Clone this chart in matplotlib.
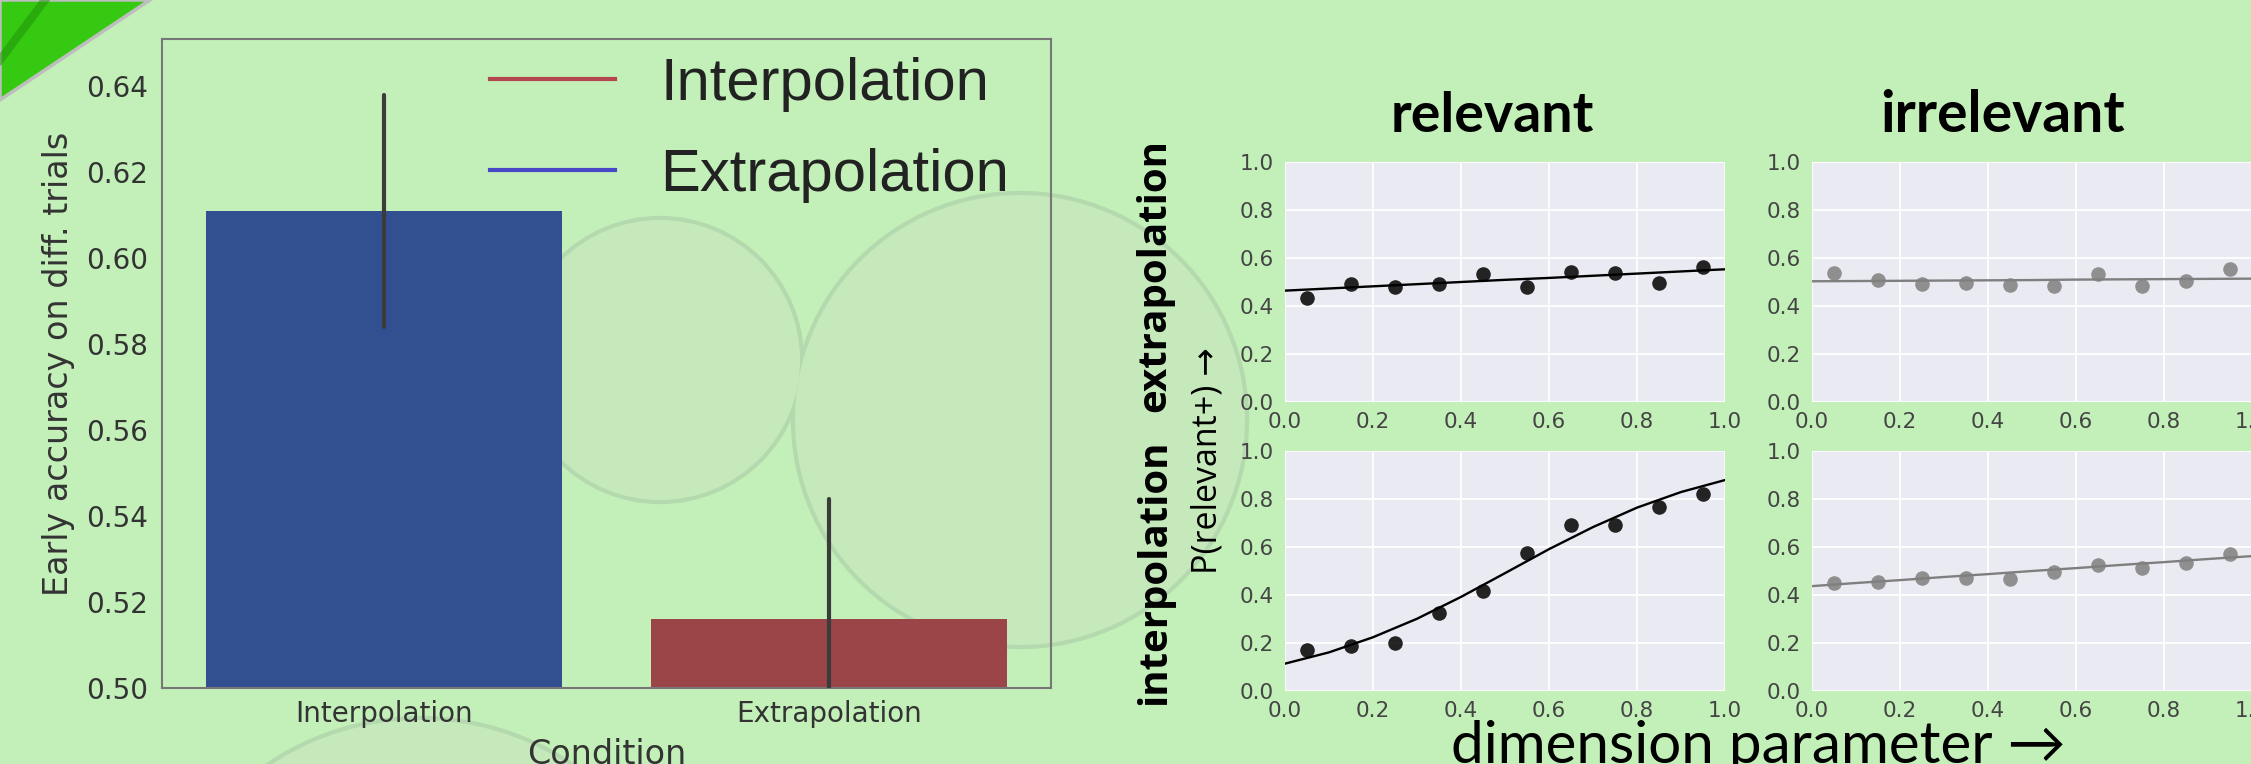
import matplotlib
matplotlib.use('Agg')
import matplotlib.pyplot as plt
from matplotlib.lines import Line2D
from matplotlib.patches import Circle, Polygon
from matplotlib.ticker import FormatStrFormatter
import numpy as np

W, H = 2251, 764  # canvas size in pixels

# --- left: early accuracy bar chart ---
conditions = ['Interpolation', 'Extrapolation']
accuracy = [0.611, 0.516]
ci_low = [0.584, 0.488]
ci_high = [0.638, 0.544]
bar_colors = ['#32508F', '#9B4548']
legend_labels = ['Interpolation', 'Extrapolation']
legend_colors = ['#B5474F', '#4848C8']

# --- right: P(relevant+) vs dimension parameter ---
dim_x = [0.05, 0.15, 0.25, 0.35, 0.45, 0.55, 0.65, 0.75, 0.85, 0.95]
rel_extra = [0.432, 0.490, 0.480, 0.492, 0.532, 0.478, 0.543, 0.539, 0.497, 0.561]
irr_extra = [0.536, 0.507, 0.492, 0.497, 0.487, 0.483, 0.532, 0.483, 0.504, 0.554]
rel_inter = [0.170, 0.188, 0.200, 0.325, 0.417, 0.577, 0.691, 0.690, 0.765, 0.821]
irr_inter = [0.451, 0.455, 0.470, 0.471, 0.466, 0.497, 0.524, 0.513, 0.534, 0.569]

fit_x = [0.0, 0.1, 0.2, 0.3, 0.4, 0.5, 0.6, 0.7, 0.8, 0.9, 1.0]
rel_extra_fit = [0.464, 0.473, 0.482, 0.491, 0.500, 0.509, 0.517, 0.526, 0.535, 0.544, 0.553]
irr_extra_fit = [0.503, 0.504, 0.505, 0.506, 0.507, 0.508, 0.510, 0.511, 0.512, 0.513, 0.514]
rel_inter_fit = [0.114, 0.161, 0.224, 0.301, 0.392, 0.491, 0.591, 0.683, 0.764, 0.829, 0.879]
irr_inter_fit = [0.437, 0.450, 0.462, 0.475, 0.487, 0.500, 0.512, 0.525, 0.537, 0.550, 0.562]


def fig_rect(left, top, width, height):
    """pixel box (y from top) -> figure fraction rect"""
    return [left / W, 1 - (top + height) / H, width / W, height / H]


fig = plt.figure(figsize=(W / 100, H / 100), dpi=100, facecolor='#C3F0B8')

# slide background: green corner and faint cloud shapes
bg = fig.add_axes([0, 0, 1, 1], zorder=-1)
bg.set_xlim(0, W)
bg.set_ylim(H, 0)
bg.axis('off')
clouds = [(660, 360, 140), (1020, 420, 225), (420, 990, 270)]
for cx, cy, r in clouds:
    bg.add_patch(Circle((cx, cy), r, facecolor='none', edgecolor='#B4D9AE', lw=6, zorder=1))
for cx, cy, r in clouds:
    bg.add_patch(Circle((cx, cy), r, facecolor='#C6E9BB', edgecolor='none', zorder=2))
bg.add_patch(Polygon([(0, 0), (150, 0), (0, 100)], closed=True, facecolor='#36C912',
                     edgecolor='#BEBEBE', lw=2.5, zorder=3))
bg.plot([0, 45], [60, 0], color='#1E8F0A', lw=6, alpha=0.5, zorder=4)

# bar chart
ax = fig.add_axes(fig_rect(161.7, 39, 889.3, 649))
ax.set_facecolor('none')
xpos = np.arange(len(conditions))
ax.bar(xpos, accuracy, width=0.8, color=bar_colors, zorder=2)
for i in range(len(conditions)):
    ax.plot([xpos[i], xpos[i]], [ci_low[i], ci_high[i]], color='#3B3B3B', lw=3,
            solid_capstyle='round', zorder=3)
ax.set_xlim(-0.5, 1.5)
ax.set_ylim(0.5, 0.651)
ax.set_yticks([0.50, 0.52, 0.54, 0.56, 0.58, 0.60, 0.62, 0.64])
ax.yaxis.set_major_formatter(FormatStrFormatter('%.2f'))
ax.set_xticks(xpos, conditions)
ax.tick_params(length=0, labelsize=20, labelcolor='#333333')
ax.tick_params(axis='x', pad=9)
ax.tick_params(axis='y', pad=10)
for s in ax.spines.values():
    s.set_color('#777777')
    s.set_linewidth(1.5)
ax.set_ylabel('Early accuracy on diff. trials', fontsize=24, color='#333333')
ax.yaxis.set_label_coords(-0.097, 0.5)
ax.set_xlabel('Condition', fontsize=24, color='#333333', va='top')
ax.xaxis.set_label_coords(0.5, -0.077)

handles = [Line2D([], [], color=c, lw=3) for c in legend_colors]
leg = ax.legend(handles, legend_labels, loc='upper left',
                bbox_to_anchor=(490 / W, 1 - 57 / H), bbox_transform=fig.transFigure,
                frameon=False, prop={'family': 'Liberation Sans', 'size': 43},
                handlelength=2.1, handletextpad=0.75, labelspacing=0.6,
                borderpad=0, borderaxespad=0)
for t in leg.get_texts():
    t.set_color('#222222')

# 2x2 grid of psychometric panels
panel_left = [1285, 1812]
panel_top = [162, 451]
panels = [
    (0, 0, rel_extra, rel_extra_fit, 'black'),
    (0, 1, irr_extra, irr_extra_fit, '#7F7F7F'),
    (1, 0, rel_inter, rel_inter_fit, 'black'),
    (1, 1, irr_inter, irr_inter_fit, '#7F7F7F'),
]
for row, col, ys, fit, color in panels:
    pax = fig.add_axes(fig_rect(panel_left[col], panel_top[row], 440, 240))
    pax.set_facecolor('#EAEAF2')
    pax.grid(True, color='white', lw=1.3)
    pax.set_axisbelow(True)
    for s in pax.spines.values():
        s.set_visible(False)
    pax.set_xlim(0, 1)
    pax.set_ylim(0, 1)
    pax.set_xticks([0.0, 0.2, 0.4, 0.6, 0.8, 1.0])
    pax.set_yticks([0.0, 0.2, 0.4, 0.6, 0.8, 1.0])
    pax.tick_params(length=0, labelsize=15.5, labelcolor='#444444')
    pax.tick_params(axis='x', pad=7)
    pax.tick_params(axis='y', pad=8)
    pax.plot(fit_x, fit, color=color, lw=1.7, zorder=2)
    pax.scatter(dim_x, ys, s=110, color=color, alpha=0.85, lw=0, zorder=3)

fig.text(1492 / W, 1 - 132 / H, 'relevant', ha='center', va='baseline',
         fontsize=40, fontweight='bold', family='Lato')
fig.text(2003 / W, 1 - 132 / H, 'irrelevant', ha='center', va='baseline',
         fontsize=41, fontweight='bold', family='Lato')
fig.text(1155 / W, 1 - 275 / H, 'extrapolation', rotation=90, ha='center', va='center',
         fontsize=29, fontweight='bold', family='Open Sans')
fig.text(1155 / W, 1 - 572 / H, 'interpolation', rotation=90, ha='center', va='center',
         fontsize=29, fontweight='bold', family='Open Sans')
fig.text(1207 / W, 1 - 461 / H, 'P(relevant+) →', rotation=90, ha='center', va='center',
         fontsize=24.5, family=['Open Sans', 'DejaVu Sans'])
fig.text(1758 / W, 1 / H, 'dimension parameter →', ha='center', va='baseline',
         fontsize=42, family=['Lato', 'DejaVu Sans'])

fig.savefig('out.png', dpi=100, facecolor=fig.get_facecolor())
